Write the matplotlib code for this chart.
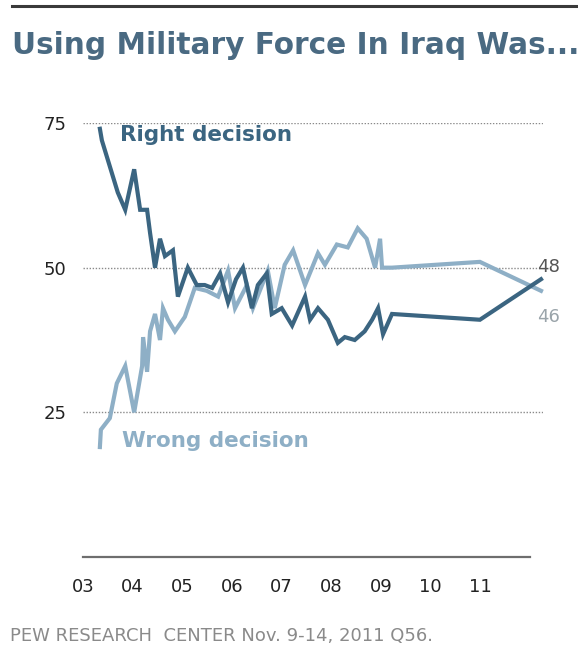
import matplotlib
matplotlib.use('Agg')
import matplotlib.pyplot as plt


# data (x in decimal years)
right_years = [2003.34, 2003.38, 2003.70, 2003.85, 2004.03, 2004.15, 2004.29, 2004.35,
               2004.45, 2004.55, 2004.65, 2004.81, 2004.91, 2005.11, 2005.29, 2005.45,
               2005.60, 2005.76, 2005.92, 2006.08, 2006.22, 2006.40, 2006.52, 2006.70,
               2006.80, 2007.00, 2007.21, 2007.47, 2007.57, 2007.73, 2007.93, 2008.13,
               2008.27, 2008.47, 2008.67, 2008.82, 2008.94, 2009.04, 2009.22, 2010.99,
               2012.22]
right_values = [74, 72, 63, 60, 67, 60, 60, 56,
                50, 55, 52, 53, 45, 50, 47, 47,
                46.5, 49, 44, 48, 50, 43, 47, 49,
                42, 43, 40, 45, 41, 43, 41, 37,
                38, 37.5, 39, 41, 43, 38.5, 42, 41,
                48]

wrong_years = [2003.34, 2003.36, 2003.54, 2003.68, 2003.85, 2004.03, 2004.19, 2004.21,
               2004.29, 2004.35, 2004.45, 2004.55, 2004.61, 2004.71, 2004.85, 2005.05,
               2005.15, 2005.25, 2005.49, 2005.72, 2005.92, 2006.06, 2006.30, 2006.42,
               2006.72, 2006.86, 2007.06, 2007.23, 2007.47, 2007.73, 2007.87, 2008.11,
               2008.33, 2008.53, 2008.71, 2008.88, 2008.98, 2009.02, 2009.22, 2010.99,
               2012.22]
wrong_values = [19, 22, 24, 30, 33, 25, 33, 38,
                32, 39, 42, 37.5, 43, 41, 39, 41.5,
                44, 46.5, 46, 45, 49.5, 43, 47, 43,
                49.5, 43, 50.5, 53, 47, 52.5, 50.5, 54,
                53.5, 56.8, 55, 50, 55, 50, 50, 51,
                46]

year_ticks = [2003, 2004, 2005, 2006, 2007, 2008, 2009, 2010, 2011]
year_labels = ['03', '04', '05', '06', '07', '08', '09', '10', '11']
y_ticks = [25, 50, 75]

dark = '#3b6581'
light = '#8eafc6'
title_color = '#4a6a82'


def main():
    W, H = 578, 662
    fig = plt.figure(figsize=(W / 100, H / 100), dpi=100)
    fig.patch.set_facecolor('white')

    # axes placed by pixel: x 83..543, y value 0 at 557, 75 at 123
    ax = fig.add_axes([83 / W, (H - 557) / H, 460 / W, 434 / H])
    ax.set_xlim(2003, 2012.26)
    ax.set_ylim(0, 75)
    for s in ax.spines.values():
        s.set_visible(False)

    # dotted gridlines
    grid_kw = dict(color='#8a8a8a', lw=1, ls=(0, (1, 1.2)), zorder=1)
    ax.axhline(75, **grid_kw)
    ax.axhline(25, **grid_kw)
    ax.axhline(50, xmin=0, xmax=0.987, **grid_kw)
    # baseline
    ax.axhline(0, xmin=0, xmax=(530 - 83) / 460, color='#6e6e6e', lw=1.6, clip_on=False)

    ax.plot(wrong_years, wrong_values, color=light, lw=3.0, solid_joinstyle='miter',
            zorder=3, clip_on=False)
    ax.plot(right_years, right_values, color=dark, lw=3.0, solid_joinstyle='miter',
            zorder=4, clip_on=False)

    ax.set_xticks(year_ticks)
    ax.set_xticklabels(year_labels)
    ax.set_yticks(y_ticks)
    ax.set_yticklabels([str(v) for v in y_ticks])
    ax.tick_params(axis='both', length=0, labelsize=13, labelcolor='#222222')
    ax.tick_params(axis='x', pad=15)
    ax.tick_params(axis='y', pad=12)

    # series labels
    ax.text(2003.75, 73, 'Right decision', color=dark, fontsize=15.5, fontweight='bold',
            va='center', ha='left')
    ax.text(2003.78, 20, 'Wrong decision', color=light, fontsize=15.5, fontweight='bold',
            va='center', ha='left')
    ax.text(2012.14, right_values[-1] + 2.2, '48', color='#555555', fontsize=13,
            va='center', ha='left', clip_on=False)
    ax.text(2012.14, wrong_values[-1] - 4.5, '46', color='#9aa4aa', fontsize=13,
            va='center', ha='left', clip_on=False)

    # top rule, title and footer
    fig.add_artist(plt.Line2D([12 / W, 1], [1 - 6 / H, 1 - 6 / H], color='#3a3a3a', lw=2.2))
    fig.text(12 / W, 1 - 46 / H, 'Using Military Force In Iraq Was...', color=title_color,
             fontsize=21.3, fontweight='bold', va='center', ha='left')
    fig.text(10 / W, 1 - 636 / H, 'PEW RESEARCH  CENTER Nov. 9-14, 2011 Q56.', color='#8a8a8a',
             fontsize=13, va='center', ha='left')

    fig.savefig('out.png', dpi=100, facecolor='white')
    print('finished')


if __name__ == '__main__': main()
